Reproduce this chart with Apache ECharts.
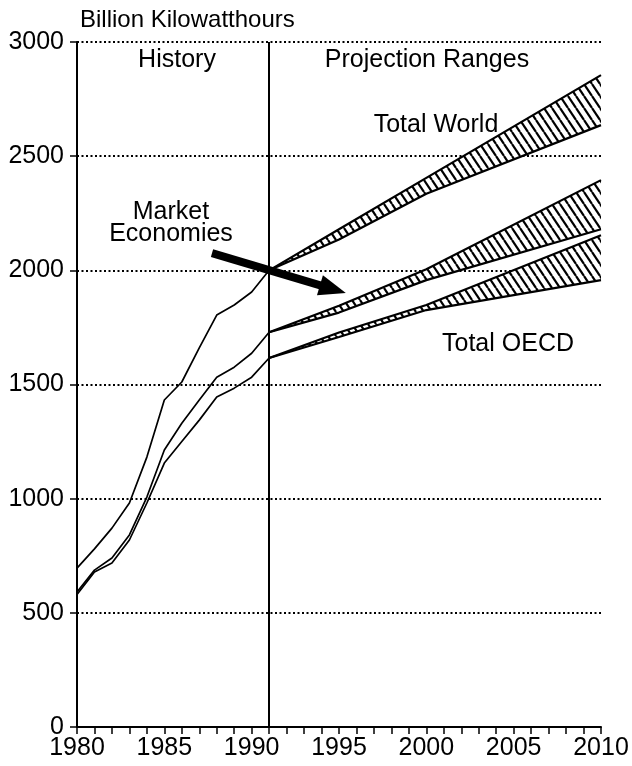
<!DOCTYPE html>
<html>
<head>
<meta charset="utf-8">
<script src="https://cdn.jsdelivr.net/npm/echarts@6/dist/echarts.min.js"></script>
<style>
  html, body { margin: 0; padding: 0; background: #fff; }
  #chart { width: 632px; height: 766px; }
</style>
</head>
<body>
<div id="chart"></div>
<script>
// Historical electricity use, billion kWh
const historyYears = [1980, 1981, 1982, 1983, 1984, 1985, 1986, 1987, 1988, 1989, 1990, 1991];
const worldHistory  = [696, 780, 871, 981, 1182, 1432, 1511, 1660, 1804, 1848, 1905, 2000];
const marketHistory = [591, 687, 740, 841, 1007, 1213, 1330, 1432, 1532, 1576, 1637, 1729];
const oecdHistory   = [580, 679, 718, 819, 981, 1156, 1250, 1344, 1445, 1484, 1532, 1616];

// Projection ranges (low / high cases)
const projectionYears = [1991, 1995, 2000, 2010];
const worldLow   = [2000, 2135, 2335, 2636];
const worldHigh  = [2000, 2180, 2405, 2855];
const marketLow  = [1729, 1815, 1957, 2180];
const marketHigh = [1729, 1845, 2005, 2395];
const oecdLow    = [1616, 1708, 1826, 1957];
const oecdHigh   = [1616, 1728, 1848, 2154];

const yTicks = [0, 500, 1000, 1500, 2000, 2500, 3000];
const xLabelYears = [1980, 1985, 1990, 1995, 2000, 2005, 2010];

const FONT = "'Liberation Sans', Arial, Helvetica, sans-serif";

// Diagonal hatch tile for the projection bands
function hatchTile() {
  const w = 8, h = 12;
  const c = document.createElement('canvas');
  c.width = w; c.height = h;
  const g = c.getContext('2d');
  g.fillStyle = '#fff';
  g.fillRect(0, 0, w, h);
  g.strokeStyle = '#000';
  g.lineWidth = 2.2;
  for (let k = -1; k <= 1; k++) {
    g.beginPath();
    g.moveTo(k * w, 0);
    g.lineTo(k * w + w, h);
    g.stroke();
  }
  return c;
}
const hatch = { image: hatchTile(), repeat: 'repeat' };

function pairs(xs, ys) { return xs.map((x, i) => [x, ys[i]]); }

function line(name, xs, values, width) {
  return {
    name, type: 'line', data: pairs(xs, values),
    symbol: 'none', lineStyle: { color: '#000', width: width },
    silent: true, z: 4
  };
}

// Hatched area between the low and high projection cases
function bandFill(name, lo, hi) {
  return {
    name: name + ' range', type: 'custom', silent: true, z: 2,
    data: pairs(projectionYears, hi),
    renderItem: function (params, api) {
      if (params.dataIndex !== 0) return null;
      const upper = projectionYears.map((x, i) => api.coord([x, hi[i]]));
      const lower = projectionYears.map((x, i) => api.coord([x, lo[i]])).reverse();
      return {
        type: 'polygon',
        shape: { points: upper.concat(lower) },
        style: { fill: hatch, stroke: null }
      };
    }
  };
}

const chart = echarts.init(document.getElementById('chart'), null, { renderer: 'canvas' });

const label = (x, y, text) => ({
  type: 'text', x, y, silent: true,
  style: { text, fill: '#000', font: '25px ' + FONT, textAlign: 'center', textVerticalAlign: 'middle' }
});

chart.setOption({
  animation: false,
  backgroundColor: '#fff',
  grid: { left: 77, right: 31, top: 42, bottom: 39 },
  xAxis: {
    type: 'value', min: 1980, max: 2010, interval: 1,
    axisLine: { show: true, onZero: false, lineStyle: { color: '#000', width: 2 } },
    axisTick: { show: true, length: 7, lineStyle: { color: '#000', width: 1.5 } },
    axisLabel: {
      color: '#000', fontSize: 25, fontFamily: FONT, margin: 9,
      formatter: v => (xLabelYears.indexOf(v) >= 0 ? String(v) : '')
    },
    splitLine: { show: false }
  },
  yAxis: {
    type: 'value', min: yTicks[0], max: yTicks[yTicks.length - 1], interval: 500,
    axisLine: { show: true, lineStyle: { color: '#000', width: 2 } },
    axisTick: { show: true, length: 7, lineStyle: { color: '#000', width: 1.5 } },
    axisLabel: { color: '#000', fontSize: 25, fontFamily: FONT, margin: 13, formatter: v => String(v) },
    splitLine: { show: true, lineStyle: { color: '#000', width: 1.8, type: [2, 2.5] } }
  },
  series: [
    bandFill('World', worldLow, worldHigh),
    bandFill('Market', marketLow, marketHigh),
    bandFill('OECD', oecdLow, oecdHigh),
    Object.assign(line('Total World', historyYears, worldHistory, 1.7), {
      markLine: {
        silent: true, animation: false,
        label: { show: false },
        emphasis: { disabled: true },
        lineStyle: { color: '#000', width: 2, type: 'solid' },
        data: [
          // divider between history and projections
          [{ coord: [1991, 0], symbol: 'none' }, { coord: [1991, 3000], symbol: 'none' }],
          // pointer from the "Market Economies" label
          [{ coord: [1987.73, 2075], symbol: 'none', lineStyle: { width: 8 } },
           { coord: [1994.65, 1918], symbol: 'triangle', symbolSize: [21, 27] }]
        ]
      }
    }),
    line('Market Economies', historyYears, marketHistory, 1.7),
    line('Total OECD', historyYears, oecdHistory, 1.7),
    line('World low', projectionYears, worldLow, 2.2),
    line('World high', projectionYears, worldHigh, 2.2),
    line('Market low', projectionYears, marketLow, 2.2),
    line('Market high', projectionYears, marketHigh, 2.2),
    line('OECD low', projectionYears, oecdLow, 2.2),
    line('OECD high', projectionYears, oecdHigh, 2.2)
  ],
  graphic: [
    { type: 'text', x: 80, y: 20, silent: true,
      style: { text: 'Billion Kilowatthours', fill: '#000', font: '24px ' + FONT, textAlign: 'left', textVerticalAlign: 'middle' } },
    label(177, 60, 'History'),
    label(427, 60, 'Projection Ranges'),
    label(436, 125, 'Total World'),
    label(508, 344, 'Total OECD'),
    label(171, 212, 'Market'),
    label(171, 234, 'Economies')
  ]
});
</script>
</body>
</html>
